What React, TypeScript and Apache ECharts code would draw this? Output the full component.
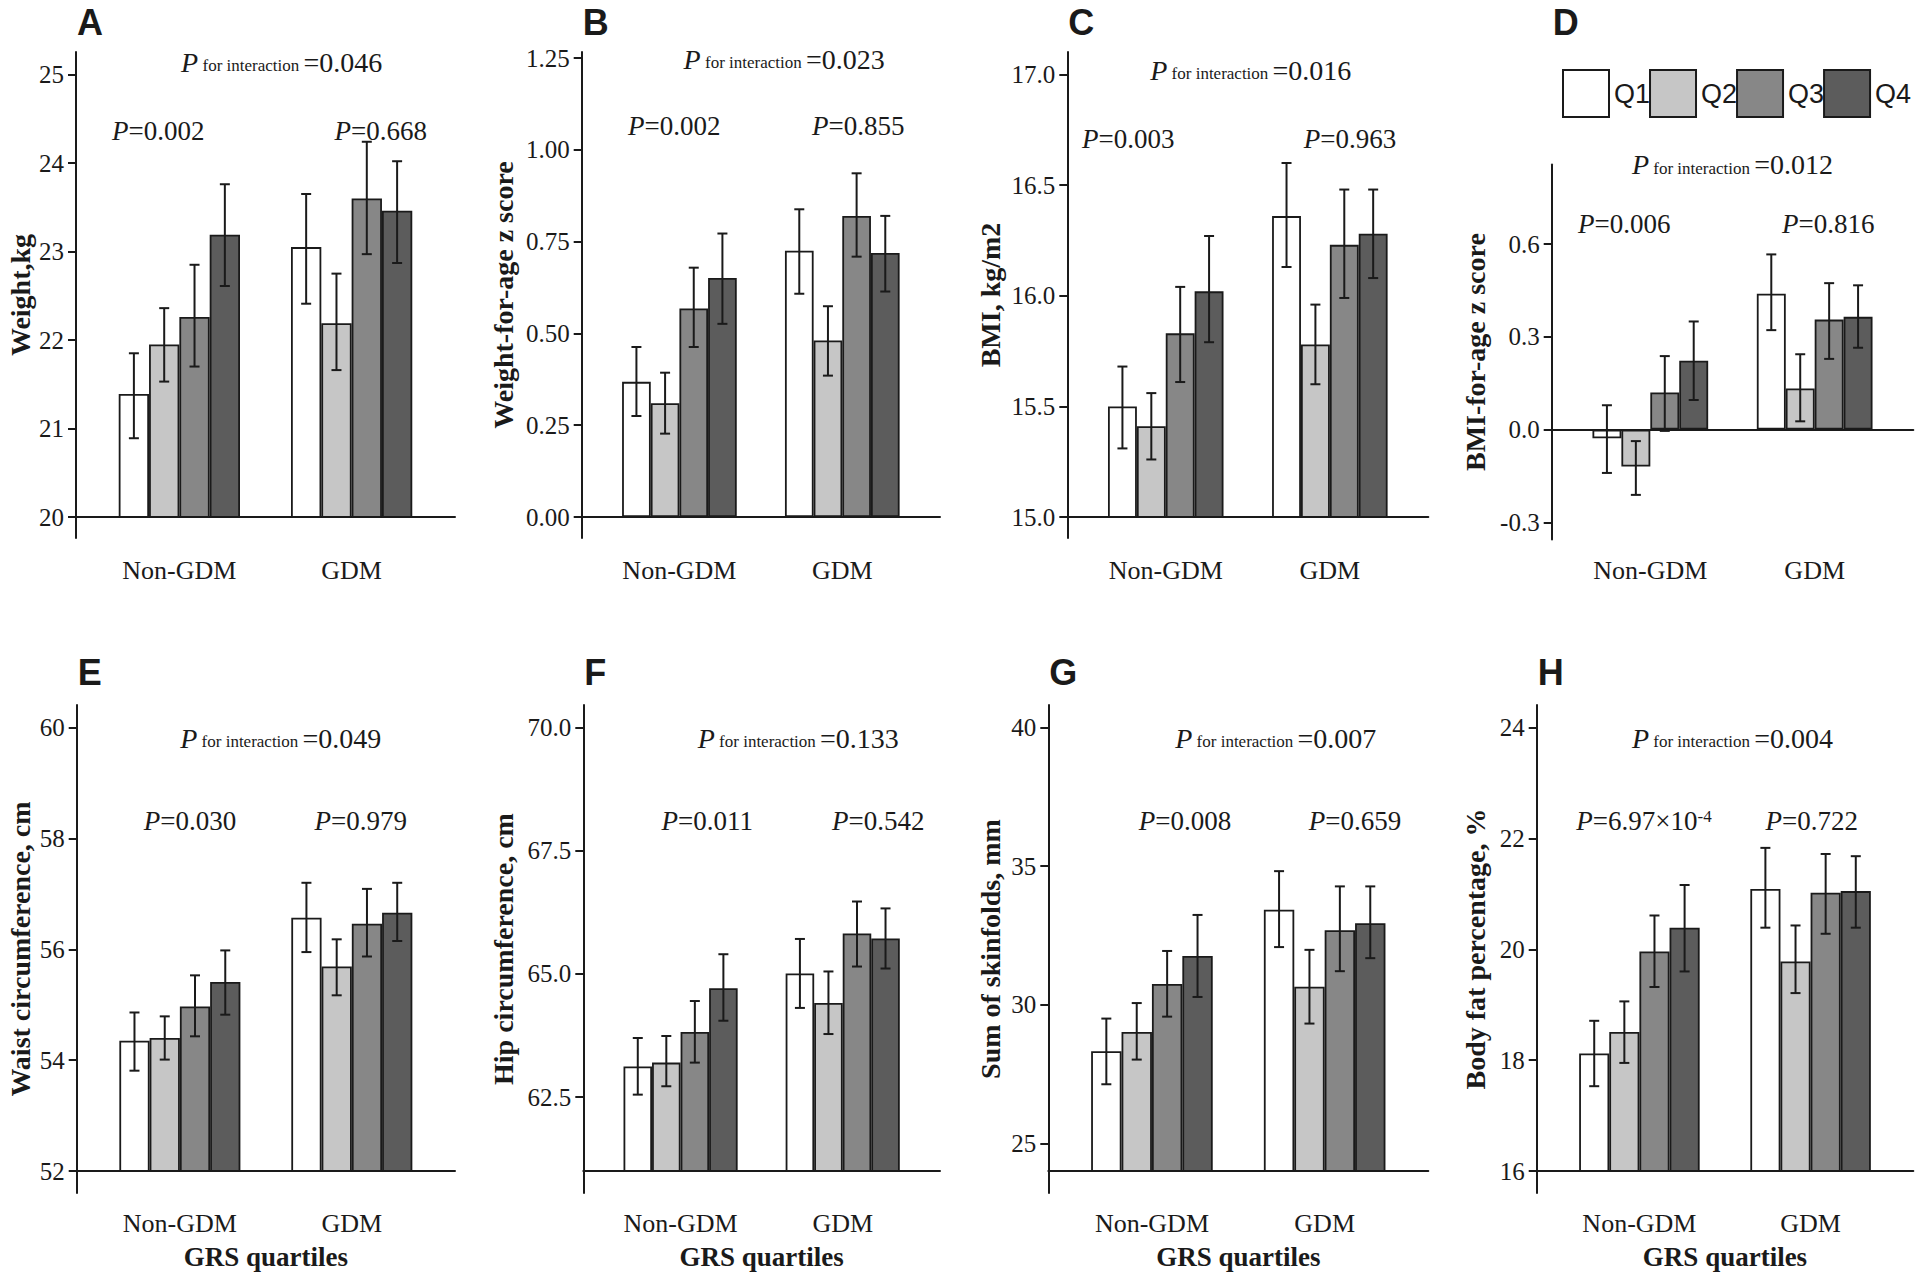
import React, { useEffect, useRef } from "react";
import * as echarts from "echarts";

// ---------- data ----------
const groups = ["Non-GDM", "GDM"];
const quartiles = ["Q1", "Q2", "Q3", "Q4"];

// each row: one quartile, [Non-GDM, GDM]
const weightMean = [[21.39, 23.05], [21.95, 22.19], [22.26, 23.6], [23.19, 23.46]];
const weightLow = [[20.89, 22.41], [21.53, 21.66], [21.7, 22.97], [22.61, 22.87]];
const weightHigh = [[21.85, 23.65], [22.36, 22.75], [22.85, 24.24], [23.76, 24.02]];
const weightTicks = [20, 21, 22, 23, 24, 25];

const wazMean = [[0.368, 0.725], [0.31, 0.481], [0.568, 0.82], [0.651, 0.719]];
const wazLow = [[0.275, 0.608], [0.227, 0.385], [0.463, 0.709], [0.526, 0.614]];
const wazHigh = [[0.463, 0.838], [0.393, 0.574], [0.679, 0.936], [0.772, 0.82]];
const wazTicks = [0, 0.25, 0.5, 0.75, 1.0, 1.25];

const bmiMean = [[15.5, 16.36], [15.41, 15.78], [15.83, 16.23], [16.02, 16.28]];
const bmiLow = [[15.31, 16.13], [15.26, 15.6], [15.61, 15.99], [15.79, 16.08]];
const bmiHigh = [[15.68, 16.6], [15.56, 15.96], [16.04, 16.48], [16.27, 16.48]];
const bmiTicks = [15.0, 15.5, 16.0, 16.5, 17.0];

const bazMean = [[-0.028, 0.44], [-0.119, 0.133], [0.12, 0.356], [0.223, 0.365]];
const bazLow = [[-0.14, 0.322], [-0.211, 0.027], [-0.004, 0.229], [0.096, 0.265]];
const bazHigh = [[0.079, 0.567], [-0.037, 0.244], [0.238, 0.474], [0.35, 0.467]];
const bazTicks = [-0.3, 0.0, 0.3, 0.6];

const waistMean = [[54.35, 56.57], [54.4, 55.69], [54.97, 56.46], [55.41, 56.66]];
const waistLow = [[53.81, 55.95], [54.01, 55.17], [54.43, 55.87], [54.82, 56.15]];
const waistHigh = [[54.86, 57.2], [54.79, 56.18], [55.53, 57.09], [55.98, 57.2]];
const waistTicks = [52, 54, 56, 58, 60];

const hipMean = [[63.12, 65.01], [63.2, 64.41], [63.82, 65.82], [64.71, 65.72]];
const hipLow = [[62.55, 64.31], [62.72, 63.78], [63.2, 65.15], [64.05, 65.11]];
const hipHigh = [[63.7, 65.71], [63.74, 65.05], [64.45, 66.47], [65.4, 66.33]];
const hipTicks = [62.5, 65.0, 67.5, 70.0];

const skinMean = [[28.32, 33.43], [29.02, 30.65], [30.75, 32.69], [31.76, 32.94]];
const skinLow = [[27.13, 32.08], [28.02, 29.32], [29.57, 31.21], [30.28, 31.68]];
const skinHigh = [[29.5, 34.82], [30.06, 31.98], [31.94, 34.27], [33.24, 34.27]];
const skinTicks = [25, 30, 35, 40];

const fatMean = [[18.12, 21.09], [18.51, 19.78], [19.96, 21.02], [20.39, 21.05]];
const fatLow = [[17.53, 20.39], [17.95, 19.21], [19.32, 20.28], [19.6, 20.39]];
const fatHigh = [[18.71, 21.83], [19.06, 20.43], [20.61, 21.72], [21.16, 21.68]];
const fatTicks = [16, 18, 20, 22, 24];

const pInteraction = ["0.046", "0.023", "0.016", "0.012", "0.049", "0.133", "0.007", "0.004"];
const pNonGDM = ["0.002", "0.002", "0.003", "0.006", "0.030", "0.011", "0.008", "6.97×10|-4"];
const pGDM = ["0.668", "0.855", "0.963", "0.816", "0.979", "0.542", "0.659", "0.722"];

// ---------- styles ----------
const SERIF = "'Liberation Serif', 'Times New Roman', serif";
const SANS = "'Liberation Sans', Arial, sans-serif";
const INK = "#1a1a1a";
const FILLS = ["#ffffff", "#c6c6c6", "#878787", "#5c5c5c"];
const BAR_FRAC = 0.176;
const CAP_HALF = 5;

const panelDefs = [
  { letter: "A", title: "Weight,kg", mean: weightMean, low: weightLow, high: weightHigh, ticks: weightTicks, yMin: 20, yMax: 25, dec: 0 },
  { letter: "B", title: "Weight-for-age z score", mean: wazMean, low: wazLow, high: wazHigh, ticks: wazTicks, yMin: 0, yMax: 1.25, dec: 2 },
  { letter: "C", title: "BMI, kg/m2", mean: bmiMean, low: bmiLow, high: bmiHigh, ticks: bmiTicks, yMin: 15, yMax: 17, dec: 1 },
  { letter: "D", title: "BMI-for-age z score", mean: bazMean, low: bazLow, high: bazHigh, ticks: bazTicks, yMin: -0.3, yMax: 0.6, dec: 1 },
  { letter: "E", title: "Waist circumference, cm", mean: waistMean, low: waistLow, high: waistHigh, ticks: waistTicks, yMin: 52, yMax: 60, dec: 0 },
  { letter: "F", title: "Hip circumference, cm", mean: hipMean, low: hipLow, high: hipHigh, ticks: hipTicks, yMin: 61, yMax: 70, dec: 1 },
  { letter: "G", title: "Sum of skinfolds, mm", mean: skinMean, low: skinLow, high: skinHigh, ticks: skinTicks, yMin: 24, yMax: 40, dec: 0 },
  { letter: "H", title: "Body fat percentage, %", mean: fatMean, low: fatLow, high: fatHigh, ticks: fatTicks, yMin: 16, yMax: 24, dec: 0 },
];

const TOP = { frameTop: 52, frameBottom: 538, gridBottom: 517, labelMargin: 40, letterY: 22 };
const BOT = { frameTop: 705, frameBottom: 1193, gridTop: 727.6, gridBottom: 1171, labelMargin: 39, letterY: 672, intY: 738, grpY: 821, xName: true };

const layouts: any[] = [
  { ...TOP, axisX: 76, xRight: 455, gridTop: 74.5, nameGap: 42, intX: 281.7, intY: 62, grpY: 131, nonX: 158.3, gdmX: 380.8 },
  { ...TOP, axisX: 581.7, xRight: 940, gridTop: 58, nameGap: 64.4, intX: 784.2, intY: 59, grpY: 126, nonX: 674.2, gdmX: 858.3 },
  { ...TOP, axisX: 1067.3, xRight: 1428.3, gridTop: 74.5, nameGap: 63.3, intX: 1250.8, intY: 70, grpY: 138.7, nonX: 1128.3, gdmX: 1350 },
  { ...TOP, axisX: 1551.7, xRight: 1913.3, frameTop: 164.6, frameBottom: 539.6, gridTop: 244.2, gridBottom: 522.4, labelMargin: 34.6, nameGap: 62.7, intX: 1732.5, intY: 164.6, grpY: 224, nonX: 1624.2, gdmX: 1828.3 },
  { ...BOT, axisX: 76.7, xRight: 455, nameGap: 42.7, intX: 280.8, nonX: 190, gdmX: 360.8 },
  { ...BOT, axisX: 583.3, xRight: 940, nameGap: 66, intX: 798.3, nonX: 707.2, gdmX: 878.3 },
  { ...BOT, axisX: 1048.3, xRight: 1428.3, nameGap: 44.3, intX: 1275.8, nonX: 1185, gdmX: 1355 },
  { ...BOT, axisX: 1536.7, xRight: 1913.3, nameGap: 47.7, intX: 1732.5, nonX: 1644, gdmX: 1811.7 },
];

const X_MIN = -0.6;
const X_MAX = 1.6;

function buildOption() {
  const grid: any[] = [];
  const xAxis: any[] = [];
  const yAxis: any[] = [];
  const series: any[] = [];
  const graphic: any[] = [];
  const lineStyle = { color: INK, width: 2 };

  panelDefs.forEach((pd, p) => {
    const L = layouts[p];
    const width = L.xRight - L.axisX;
    // frame grid (y-axis line + title)
    grid.push({ left: L.axisX, top: L.frameTop, width, height: L.frameBottom - L.frameTop });
    // main grid
    grid.push({ left: L.axisX, top: L.gridTop, width, height: L.gridBottom - L.gridTop });

    xAxis.push({ gridIndex: 2 * p, type: "value", min: 0, max: 1, show: false });
    xAxis.push({
      gridIndex: 2 * p + 1, type: "value", min: X_MIN, max: X_MAX, position: "bottom",
      axisLine: { show: true, onZero: true, lineStyle },
      axisTick: { show: false }, axisLabel: { show: false }, splitLine: { show: false },
    });
    xAxis.push({
      gridIndex: 2 * p + 1, type: "value", min: X_MIN, max: X_MAX, position: "bottom",
      axisLine: { show: false, onZero: false }, axisTick: { show: false }, splitLine: { show: false },
      axisLabel: {
        show: true, customValues: [0, 1], margin: L.labelMargin,
        formatter: (v: number) => groups[Math.round(v)] ?? "",
        fontFamily: SERIF, fontSize: 26, color: INK,
      },
      name: L.xName ? "GRS quartiles" : "", nameLocation: "middle", nameGap: 72,
      nameTextStyle: { fontFamily: SERIF, fontSize: 27, fontWeight: "bold", color: INK },
    });

    yAxis.push({
      gridIndex: 2 * p, type: "value", min: 0, max: 1,
      axisLine: { show: true, onZero: false, lineStyle },
      axisTick: { show: false }, axisLabel: { show: false }, splitLine: { show: false },
      name: pd.title, nameLocation: "middle", nameGap: L.nameGap,
      nameTextStyle: { fontFamily: SERIF, fontSize: 28, fontWeight: "bold", color: INK },
    });
    yAxis.push({
      gridIndex: 2 * p + 1, type: "value", min: pd.yMin, max: pd.yMax,
      axisLine: { show: false, onZero: false },
      axisTick: { show: true, length: 8, customValues: pd.ticks, lineStyle },
      axisLabel: {
        show: true, customValues: pd.ticks, margin: 12,
        formatter: (v: number) => Number(v).toFixed(pd.dec),
        fontFamily: SERIF, fontSize: 25, color: INK,
      },
      splitLine: { show: false },
    });

    const xIdx = 3 * p + 2;
    const yIdx = 2 * p + 1;
    quartiles.forEach((q, qi) => {
      series.push({
        type: "bar", name: q, xAxisIndex: xIdx, yAxisIndex: yIdx,
        barWidth: `${BAR_FRAC * 100}%`, barGap: "0%",
        itemStyle: { color: FILLS[qi], borderColor: INK, borderWidth: 1.8 },
        data: groups.map((_, gi) => [gi, pd.mean[qi][gi]]),
        z: 2,
      });
      series.push({
        type: "custom", name: "err-" + q, xAxisIndex: xIdx, yAxisIndex: yIdx, z: 5,
        encode: { x: 0, y: [1, 2] },
        data: groups.map((_, gi) => [gi, pd.low[qi][gi], pd.high[qi][gi]]),
        renderItem: (params: any, api: any) => {
          const x = api.value(0);
          const lo = api.coord([x, api.value(1)]);
          const hi = api.coord([x, api.value(2)]);
          const unit = api.size([1, 0])[0];
          const cx = lo[0] + (qi - 1.5) * unit * BAR_FRAC;
          const st = { stroke: INK, lineWidth: 2 };
          return {
            type: "group",
            children: [
              { type: "line", shape: { x1: cx, y1: hi[1], x2: cx, y2: lo[1] }, style: st },
              { type: "line", shape: { x1: cx - CAP_HALF, y1: hi[1], x2: cx + CAP_HALF, y2: hi[1] }, style: st },
              { type: "line", shape: { x1: cx - CAP_HALF, y1: lo[1], x2: cx + CAP_HALF, y2: lo[1] }, style: st },
            ],
          };
        },
      });
    });

    // panel letter
    graphic.push({
      type: "text", x: L.axisX + 1, y: L.letterY,
      style: { text: pd.letter, fontFamily: SANS, fontWeight: "bold", fontSize: 36, fill: INK, align: "left", verticalAlign: "middle" },
    });
    // P for interaction
    graphic.push({
      type: "text", x: L.intX, y: L.intY,
      style: {
        text: `{i|P}{s| for interaction }{n|=${pInteraction[p]}}`,
        align: "center", verticalAlign: "middle", fill: INK,
        rich: {
          i: { fontFamily: SERIF, fontStyle: "italic", fontSize: 28, fill: INK, verticalAlign: "bottom" },
          s: { fontFamily: SERIF, fontSize: 17, fill: INK, verticalAlign: "bottom", padding: [0, 0, 2, 0] },
          n: { fontFamily: SERIF, fontSize: 28, fill: INK, verticalAlign: "bottom" },
        },
      },
    });
    const pTexts = [[pNonGDM[p], L.nonX], [pGDM[p], L.gdmX]];
    pTexts.forEach(([val, x]) => {
      const parts = String(val).split("|");
      const txt = parts.length > 1 ? `{i|P}{n|=${parts[0]}}{sup|${parts[1]}}` : `{i|P}{n|=${parts[0]}}`;
      graphic.push({
        type: "text", x, y: L.grpY,
        style: {
          text: txt, align: "center", verticalAlign: "middle", fill: INK,
          rich: {
            i: { fontFamily: SERIF, fontStyle: "italic", fontSize: 27, fill: INK, verticalAlign: "bottom" },
            n: { fontFamily: SERIF, fontSize: 27, fill: INK, verticalAlign: "bottom" },
            sup: { fontFamily: SERIF, fontSize: 17, fill: INK, verticalAlign: "top" },
          },
        },
      });
    });
  });

  return {
    animation: false,
    backgroundColor: "#ffffff",
    textStyle: { fontFamily: SERIF },
    legend: {
      data: quartiles, left: 1562, top: 69, padding: 0,
      itemWidth: 46, itemHeight: 47, itemGap: -1, icon: "rect", selectedMode: false,
      itemStyle: { borderColor: INK, borderWidth: 2 },
      textStyle: { fontFamily: SANS, fontSize: 27, color: INK },
    },
    grid, xAxis, yAxis, series, graphic,
  };
}

export default function App() {
  const ref = useRef<HTMLDivElement>(null);
  useEffect(() => {
    if (!ref.current) return;
    const chart = echarts.init(ref.current, undefined, { renderer: "svg" });
    chart.setOption(buildOption() as any);
    return () => chart.dispose();
  }, []);
  return (
    <div
      ref={ref}
      style={{ position: "absolute", left: 0, top: 0, width: 1920, height: 1279, background: "#fff" }}
    />
  );
}
